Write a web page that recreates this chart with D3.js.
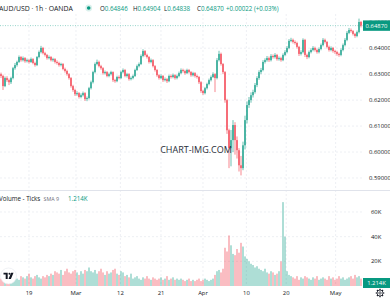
<!DOCTYPE html>
<html>
<head>
<meta charset="utf-8">
<script src="https://cdn.jsdelivr.net/npm/d3@7"></script>
<style>
  html, body { margin: 0; padding: 0; background: #fff; }
  svg { display: block; font-family: "Open Sans", "Noto Sans", sans-serif; }
</style>
</head>
<body>
<div class="canvas"></div>
<script>
// AUD/USD 1h (OANDA) - one candle per ~8 trading hours
const firstOpen = 0.6300;

const closes = [
  0.6293,0.6254,0.6285,0.6277,0.6269,0.6285,0.6323,0.6335,0.6347,0.6366,
  0.6354,0.6362,0.6350,0.6354,0.6347,0.6358,0.6343,0.6335,0.6366,0.6385,
  0.6401,0.6381,0.6374,0.6362,0.6366,0.6354,0.6358,0.6347,0.6343,0.6335,
  0.6339,0.6320,0.6312,0.6300,0.6285,0.6254,0.6239,0.6223,0.6227,0.6212,
  0.6219,0.6227,0.6204,0.6208,0.6246,0.6269,0.6308,0.6339,0.6347,0.6331,
  0.6323,0.6304,0.6308,0.6293,0.6300,0.6308,0.6277,0.6273,0.6289,0.6285,
  0.6308,0.6316,0.6293,0.6300,0.6281,0.6285,0.6293,0.6316,0.6331,0.6339,
  0.6370,0.6389,0.6374,0.6366,0.6347,0.6354,0.6331,0.6316,0.6296,0.6285,
  0.6293,0.6277,0.6281,0.6273,0.6293,0.6289,0.6296,0.6285,0.6293,0.6304,
  0.6316,0.6312,0.6304,0.6316,0.6308,0.6296,0.6304,0.6293,0.6289,0.6269,
  0.6235,0.6227,0.6246,0.6262,0.6277,0.6289,0.6300,0.6285,0.6354,0.6378,
  0.6339,0.6308,0.6200,0.6084,0.6015,0.6046,0.6104,0.6046,0.6007,0.5949,
  0.5938,0.6026,0.6123,0.6181,0.6200,0.6219,0.6231,0.6258,0.6285,0.6308,
  0.6316,0.6347,0.6354,0.6362,0.6354,0.6370,0.6366,0.6374,0.6358,0.6362,
  0.6354,0.6374,0.6385,0.6401,0.6428,0.6432,0.6424,0.6420,0.6405,0.6378,
  0.6385,0.6432,0.6374,0.6366,0.6385,0.6393,0.6401,0.6393,0.6385,0.6397,
  0.6412,0.6432,0.6424,0.6405,0.6393,0.6401,0.6389,0.6385,0.6378,0.6374,
  0.6393,0.6412,0.6432,0.6459,0.6470,0.6466,0.6455,0.6447,0.6462,0.6501,0.6487
];

const highs = [
  0.6306,0.6298,0.6291,0.6292,0.6283,0.6290,0.6328,0.6343,0.6352,0.6372,
  0.6370,0.6368,0.6366,0.6360,0.6358,0.6364,0.6362,0.6348,0.6370,0.6391,
  0.6409,0.6405,0.6386,0.6378,0.6372,0.6370,0.6363,0.6362,0.6353,0.6348,
  0.6344,0.6343,0.6325,0.6317,0.6304,0.6289,0.6259,0.6244,0.6234,0.6231,
  0.6226,0.6233,0.6231,0.6214,0.6251,0.6275,0.6313,0.6345,0.6356,0.6352,
  0.6336,0.6327,0.6314,0.6312,0.6306,0.6313,0.6311,0.6282,0.6294,0.6295,
  0.6313,0.6322,0.6320,0.6305,0.6304,0.6291,0.6298,0.6321,0.6337,0.6345,
  0.6376,0.6396,0.6393,0.6379,0.6370,0.6360,0.6358,0.6335,0.6320,0.6300,
  0.6299,0.6297,0.6287,0.6285,0.6298,0.6299,0.6302,0.6300,0.6298,0.6310,
  0.6322,0.6321,0.6317,0.6321,0.6320,0.6312,0.6309,0.6308,0.6298,0.6293,
  0.6273,0.6240,0.6251,0.6267,0.6283,0.6295,0.6307,0.6304,0.6362,0.6390,
  0.6383,0.6343,0.6312,0.6205,0.6090,0.6085,0.6123,0.6115,0.6060,0.6015,
  0.5985,0.6040,0.6140,0.6195,0.6212,0.6230,0.6240,0.6266,0.6292,0.6315,
  0.6324,0.6354,0.6361,0.6370,0.6368,0.6377,0.6376,0.6381,0.6378,0.6368,
  0.6367,0.6380,0.6392,0.6408,0.6435,0.6440,0.6437,0.6430,0.6425,0.6409,
  0.6392,0.6438,0.6436,0.6379,0.6391,0.6400,0.6408,0.6406,0.6398,0.6403,
  0.6418,0.6439,0.6437,0.6428,0.6410,0.6407,0.6405,0.6394,0.6390,0.6383,
  0.6399,0.6418,0.6439,0.6466,0.6478,0.6476,0.6470,0.6459,0.6468,0.6514,0.6505
];

const lows = [
  0.6285,0.6239,0.6250,0.6270,0.6258,0.6262,0.6280,0.6317,0.6329,0.6343,
  0.6348,0.6349,0.6344,0.6345,0.6341,0.6343,0.6338,0.6329,0.6331,0.6361,
  0.6380,0.6376,0.6368,0.6356,0.6357,0.6349,0.6348,0.6341,0.6337,0.6329,
  0.6330,0.6315,0.6306,0.6294,0.6279,0.6248,0.6232,0.6216,0.6217,0.6206,
  0.6207,0.6214,0.6197,0.6196,0.6203,0.6241,0.6264,0.6303,0.6334,0.6326,
  0.6317,0.6298,0.6299,0.6288,0.6288,0.6295,0.6270,0.6267,0.6269,0.6280,
  0.6281,0.6303,0.6288,0.6287,0.6275,0.6276,0.6280,0.6289,0.6312,0.6326,
  0.6335,0.6365,0.6368,0.6360,0.6341,0.6342,0.6326,0.6310,0.6290,0.6279,
  0.6281,0.6270,0.6272,0.6266,0.6269,0.6283,0.6284,0.6279,0.6280,0.6288,
  0.6300,0.6306,0.6298,0.6300,0.6303,0.6290,0.6291,0.6287,0.6283,0.6262,
  0.6228,0.6220,0.6222,0.6241,0.6257,0.6272,0.6285,0.6231,0.6280,0.6349,
  0.6333,0.6300,0.6190,0.6070,0.5938,0.5945,0.6000,0.5990,0.5975,0.5925,
  0.5910,0.5930,0.6010,0.6110,0.6170,0.6190,0.6210,0.6225,0.6250,0.6278,
  0.6300,0.6311,0.6341,0.6348,0.6347,0.6349,0.6360,0.6360,0.6352,0.6352,
  0.6348,0.6350,0.6369,0.6380,0.6396,0.6423,0.6418,0.6414,0.6399,0.6370,
  0.6372,0.6380,0.6366,0.6358,0.6361,0.6380,0.6388,0.6387,0.6379,0.6380,
  0.6392,0.6407,0.6418,0.6399,0.6387,0.6388,0.6383,0.6378,0.6371,0.6367,
  0.6369,0.6388,0.6407,0.6427,0.6454,0.6460,0.6449,0.6440,0.6442,0.6457,0.6480
];

// tick volume, thousands
const volumes = [
  6,5,7,8,6,5,7,9,6,5,8,7,6,8,10,7,6,8,9,7,6,8,7,9,8,
  10,9,12,11,10,13,9,12,14,11,10,12,13,11,9,12,10,13,12,
  15,12,11,13,10,12,14,11,9,12,10,11,13,14,10,9,12,11,
  8,9,7,10,6,7,8,6,5,7,6,8,6,5,7,6,5,6,7,5,6,8,5,6,7,5,6,5,6,
  5,4,5,6,4,5,4,5,6,4,5,6,5,4,5,6,9,
  12,13,11,14,31,
  28,41,33,26,25,30,27,35,32,24,22,20,18,17,15,16,14,
  13,12,14,11,10,12,11,9,10,12,
  20,68,40,12,9,
  8,7,6,8,5,7,6,8,7,6,5,7,6,8,5,6,7,6,5,8,6,7,5,6,8,6,7,5,6,7,8,6,9,7,8,6
];

// time axis: label and the candle index where it falls
const timeLabels = ['19', 'Mar', '12', '21', 'Apr', '10', '20', 'May'];
const timeIdx = [14.5, 38, 60.2, 80.5, 101.5, 123.2, 143.1, 167.8];

const priceTicks = [0.59, 0.60, 0.61, 0.62, 0.63, 0.64, 0.65];
const volTicks = [20, 40, 60];

const ohlcKeys = ['O', 'H', 'L', 'C'];
const ohlcVals = ['0.64846', '0.64904', '0.64838', '0.64870'];
const changeText = '+0.00022 (+0.03%)';
const lastPrice = 0.64870;
const lastVolume = 1.214;

const up = '#089981', down = '#f23645', ink = '#131722';
const plotRight = 363;

const svg = d3.select('.canvas')
    .append('svg')
    .attr('width', 390)
    .attr('height', 300);

svg.append('rect').attr('width', 390).attr('height', 300).attr('fill', '#fff');

const x = d3.scaleLinear().domain([0, closes.length]).range([0, 362]);
const y = d3.scaleLinear().domain([0.59, 0.64]).range([178, 48.2]);
const yVol = d3.scaleLinear().domain([0, 60]).range([286, 212]);

const candles = closes.map((c, i) => ({
    i,
    open: i ? closes[i - 1] : firstOpen,
    close: c,
    high: highs[i],
    low: lows[i],
    vol: volumes[i]
}));

// clip paths for the two panes
const defs = svg.append('defs');
defs.append('clipPath').attr('id', 'pclip')
    .append('rect').attr('x', 0).attr('y', 14).attr('width', plotRight).attr('height', 176);
defs.append('clipPath').attr('id', 'vclip')
    .append('rect').attr('x', 0).attr('y', 191).attr('width', plotRight).attr('height', 95);
// the top price label sits behind the last-price tag, only its top shows
defs.append('clipPath').attr('id', 'tagclip')
    .append('rect').attr('x', plotRight).attr('y', 14).attr('width', 27).attr('height', y(lastPrice) - 5.2 - 14);

// grid
const grid = svg.append('g').attr('stroke', '#e6e9ef').attr('stroke-width', 0.7)
    .attr('stroke-dasharray', '2,2');

grid.selectAll('.vg').data(timeIdx).enter().append('line')
    .attr('x1', d => x(d)).attr('x2', d => x(d))
    .attr('y1', 14).attr('y2', 286);

grid.selectAll('.hg').data(priceTicks.slice(0, 6)).enter().append('line')
    .attr('x1', 0).attr('x2', plotRight)
    .attr('y1', d => y(d)).attr('y2', d => y(d));

grid.selectAll('.vlg').data(volTicks).enter().append('line')
    .attr('x1', 0).attr('x2', plotRight)
    .attr('y1', d => yVol(d)).attr('y2', d => yVol(d));

// pane separator
svg.append('line')
    .attr('x1', 0).attr('x2', 390).attr('y1', 190.5).attr('y2', 190.5)
    .attr('stroke', '#e0e3eb').attr('stroke-width', 1);

// current price line
svg.append('line')
    .attr('x1', 0).attr('x2', plotRight)
    .attr('y1', y(lastPrice)).attr('y2', y(lastPrice))
    .attr('stroke', up).attr('stroke-opacity', 0.6)
    .attr('stroke-width', 0.7).attr('stroke-dasharray', '1,1.5');

// candles
const cg = svg.append('g').attr('clip-path', 'url(#pclip)');
const bw = (x(1) - x(0)) * 0.6;

cg.selectAll('.wick').data(candles).enter().append('line')
    .attr('x1', d => x(d.i + 0.5)).attr('x2', d => x(d.i + 0.5))
    .attr('y1', d => y(d.high)).attr('y2', d => y(d.low))
    .attr('stroke', d => d.close >= d.open ? up : down)
    .attr('stroke-width', 0.6);

cg.selectAll('.body').data(candles).enter().append('rect')
    .attr('x', d => x(d.i + 0.5) - bw / 2)
    .attr('width', bw)
    .attr('y', d => y(Math.max(d.open, d.close)))
    .attr('height', d => Math.max(0.6, Math.abs(y(d.open) - y(d.close))))
    .attr('fill', d => d.close >= d.open ? up : down);

// volume
const vg = svg.append('g').attr('clip-path', 'url(#vclip)');
vg.selectAll('rect').data(candles).enter().append('rect')
    .attr('x', d => x(d.i + 0.5) - 0.65)
    .attr('width', 1.3)
    .attr('y', d => yVol(d.vol))
    .attr('height', d => yVol(0) - yVol(d.vol))
    .attr('fill', d => d.close >= d.open ? 'rgba(8,153,129,0.5)' : 'rgba(242,54,69,0.5)');

// price axis labels
const fmt = d3.format('.5f');
svg.selectAll('.plabel').data(priceTicks.slice(0, 6)).enter().append('text')
    .attr('x', 369).attr('y', d => y(d))
    .attr('dy', '0.35em')
    .attr('font-size', 5.9).attr('fill', ink)
    .text(d => fmt(d));

svg.append('g').attr('clip-path', 'url(#tagclip)')
    .append('text')
    .attr('x', 369).attr('y', y(priceTicks[6])).attr('dy', '0.35em')
    .attr('font-size', 5.9).attr('fill', ink)
    .text(fmt(priceTicks[6]));

svg.append('rect')
    .attr('x', plotRight).attr('y', y(lastPrice) - 5.2)
    .attr('width', 27).attr('height', 10.4).attr('fill', up);
svg.append('text')
    .attr('x', 376.5).attr('y', y(lastPrice)).attr('dy', '0.35em')
    .attr('text-anchor', 'middle').attr('font-size', 5.9).attr('fill', '#fff')
    .text(fmt(lastPrice));

// volume axis labels
svg.selectAll('.vlabel').data(volTicks).enter().append('text')
    .attr('x', 371).attr('y', d => yVol(d)).attr('dy', '0.35em')
    .attr('font-size', 5.9).attr('fill', ink)
    .text(d => d + 'K');

svg.append('rect')
    .attr('x', plotRight).attr('y', 278)
    .attr('width', 27).attr('height', 10).attr('fill', up);
svg.append('text')
    .attr('x', 376.5).attr('y', 283).attr('dy', '0.35em')
    .attr('text-anchor', 'middle').attr('font-size', 5.9).attr('fill', '#fff')
    .text(d3.format('.3f')(lastVolume) + 'K');

// time axis labels
svg.selectAll('.tlabel').data(timeLabels).enter().append('text')
    .attr('x', (d, i) => x(timeIdx[i])).attr('y', 293).attr('dy', '0.35em')
    .attr('text-anchor', 'middle').attr('font-size', 5.9).attr('fill', ink)
    .text(d => d);

// header legend
svg.append('text').attr('x', -1).attr('y', 10.5)
    .attr('font-size', 6.9).attr('fill', ink)
    .text('AUD/USD · 1h · OANDA');
svg.append('circle').attr('cx', 88.7).attr('cy', 8).attr('r', 3.4)
    .attr('fill', up).attr('fill-opacity', 0.15);
svg.append('circle').attr('cx', 88.7).attr('cy', 8).attr('r', 1.8).attr('fill', up);

const ohlcX = [100, 133, 164, 197];
ohlcKeys.forEach((k, i) => {
    const t = svg.append('text').attr('x', ohlcX[i]).attr('y', 10.5)
        .attr('font-size', 6.2);
    t.append('tspan').attr('fill', ink).text(k);
    t.append('tspan').attr('fill', up).text(ohlcVals[i]);
});
svg.append('text').attr('x', 226).attr('y', 10.5)
    .attr('font-size', 6.2).attr('fill', up).text(changeText);

// volume legend
svg.append('text').attr('x', -1).attr('y', 200.5)
    .attr('font-size', 6.2).attr('fill', ink).text('Volume - Ticks');
svg.append('text').attr('x', 43.5).attr('y', 200.5)
    .attr('font-size', 5.3).attr('fill', '#6a6d78').text('SMA 9');
svg.append('text').attr('x', 68).attr('y', 200.5)
    .attr('font-size', 6.2).attr('fill', up).text(d3.format('.3f')(lastVolume) + 'K');

// watermark
svg.append('text').attr('x', 196).attr('y', 150).attr('dy', '0.35em')
    .attr('text-anchor', 'middle').attr('font-size', 9).attr('fill', '#2a2e39')
    .text('CHART-IMG.COM');

// tradingview logo
const logo = svg.append('g').attr('transform', 'translate(8.5,276)');
logo.append('circle').attr('r', 8).attr('fill', '#fff').attr('stroke', '#e6e9ef').attr('stroke-width', 0.6);
logo.append('path').attr('d', 'M-5,-3.2 H-0.8 V3 H-2.8 V-1.4 H-5 Z').attr('fill', ink);
logo.append('circle').attr('cx', 1).attr('cy', -2.2).attr('r', 1).attr('fill', ink);
logo.append('path').attr('d', 'M2.6,-3.2 H5 L2.4,3 H0 Z').attr('fill', ink);

// settings gear
const gear = svg.append('g').attr('transform', 'translate(380,293)')
    .attr('stroke', ink).attr('fill', 'none');
gear.append('circle').attr('r', 3).attr('stroke-width', 0.8);
gear.append('circle').attr('r', 1.2).attr('stroke-width', 0.7);
gear.selectAll('line').data(d3.range(8)).enter().append('line')
    .attr('x1', d => 3 * Math.cos(d * Math.PI / 4)).attr('y1', d => 3 * Math.sin(d * Math.PI / 4))
    .attr('x2', d => 4.3 * Math.cos(d * Math.PI / 4)).attr('y2', d => 4.3 * Math.sin(d * Math.PI / 4))
    .attr('stroke-width', 1.2);
</script>
</body>
</html>
